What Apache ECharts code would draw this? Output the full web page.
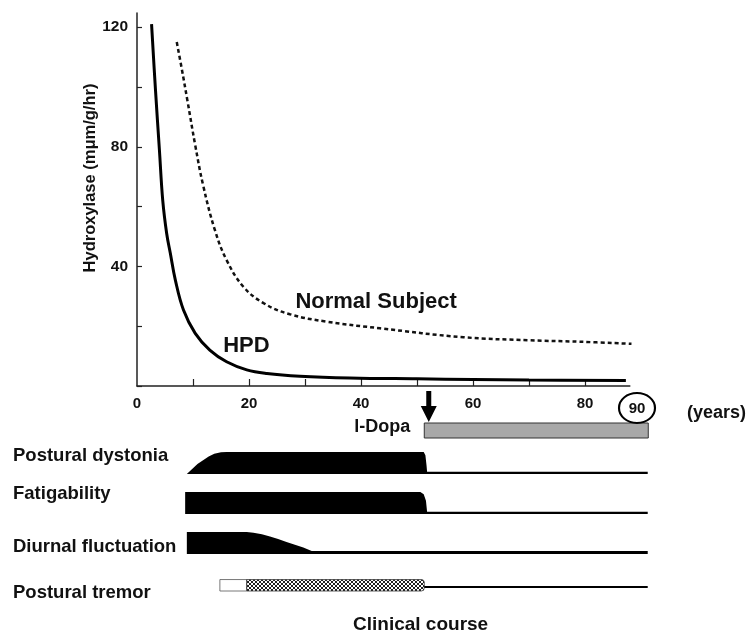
<!DOCTYPE html>
<html>
<head>
<meta charset="utf-8">
<script src="https://cdn.jsdelivr.net/npm/echarts@6/dist/echarts.min.js"></script>
<style>
html,body{margin:0;padding:0;background:#fff;}
#chart{width:754px;height:635px;}
</style>
</head>
<body>
<div id="chart"></div>
<script>
// ---- data ----
const hpd = [[2.6,121],[3.3,99],[4.0,79],[4.6,62],[5.3,51],[5.95,44.4],[6.84,35.5],[8.3,25.4],[10.4,17.6],[13.0,12.0],[16.0,8.1],[19.6,5.4],[23.2,4.2],[29.1,3.3],[38,2.7],[50,2.4],[60,2.2],[70,2.0],[87.3,1.8]];
const normalSubject = [[7.1,115],[8.0,106],[9.0,95.5],[10.4,80.5],[11.8,67.2],[13.9,52.2],[16.0,42.1],[19.0,33.2],[22.6,27.7],[27.3,24.0],[33.9,21.5],[43.4,19.3],[58.3,16.3],[70,15.3],[79.1,14.8],[88.3,14.1]];
const yTickValues = [0,20,40,60,80,100,120];
const yLabelValues = [40,80,120];
const xTickValues = [10,20,30,40,50,60,70,80];
const xLabelValues = [0,20,40,60,80];
const ageMarker = [90];
const treatment = {name:'l-Dopa', start:51.3, end:91.3, arrowAt:52.1};
const symptoms = ['Postural dystonia','Fatigability','Diurnal fluctuation','Postural tremor'];
// severity profiles [year, severity 0..1]
const dystonia = [[8.9,0],[9.8,0.22],[10.8,0.45],[11.8,0.63],[12.8,0.8],[13.8,0.92],[15.0,0.99],[16.0,1],[51.2,1],[51.5,0.85],[51.7,0.4],[51.8,0.1],[91.2,0.1]];
const fatigability = [[8.6,0],[8.6,1],[50.6,1],[51.2,0.9],[51.6,0.6],[51.8,0.1],[91.2,0.1]];
const diurnal = [[8.9,0],[8.9,1],[19.6,1],[20.8,0.97],[22.3,0.9],[23.75,0.8],[25.2,0.68],[26.7,0.55],[28.2,0.42],[29.7,0.3],[31.2,0.14],[91.2,0.14]];
// tremor segments [start, end, severity, kind]
const tremor = [[14.8,19.6,0.52,'open'],[19.6,51.3,0.52,'dots'],[51.3,91.2,0.1,'solid']];
const profiles = [dystonia, fatigability, diurnal];

// ---- pattern ----
const pc = document.createElement('canvas');
pc.width = 4; pc.height = 4;
const pctx = pc.getContext('2d');
pctx.fillStyle = '#fff'; pctx.fillRect(0,0,4,4);
pctx.fillStyle = '#222';
[[1,0],[2,0],[0,1],[3,1],[0,2],[3,2],[1,3],[2,3]].forEach(p => pctx.fillRect(p[0],p[1],1,1));

const FONT = "'Liberation Sans', Arial, sans-serif";
const chart = echarts.init(document.getElementById('chart'), null, {renderer:'canvas'});

function renderSymptom(params, api) {
  const idx = params.dataIndex;
  const band = api.size([0,1])[1];
  const h = band * 0.55;
  const cy = api.coord([0, idx])[1];
  const base = cy + h/2;
  const children = [];
  if (idx < 3) {
    const prof = profiles[idx];
    const pts = prof.map(p => [api.coord([p[0], idx])[0], base - p[1]*h]);
    pts.push([api.coord([prof[prof.length-1][0], idx])[0], base]);
    pts.push([api.coord([prof[0][0], idx])[0], base]);
    children.push({type:'polygon', shape:{points:pts}, style:{fill:'#000'}});
  } else {
    const tb = cy + 8;
    tremor.forEach(seg => {
      const x0 = api.coord([seg[0], idx])[0];
      const x1 = api.coord([seg[1], idx])[0];
      const hh = seg[2]*h;
      let style, y0 = tb - hh;
      if (seg[3] === 'open') style = {fill:'#fff', stroke:'#555', lineWidth:0.8};
      else if (seg[3] === 'dots') style = {fill:{image:pc, repeat:'repeat'}, stroke:'#333', lineWidth:0.8};
      else { style = {fill:'#000'}; y0 = tb - 4 - hh/2; }
      children.push({type:'rect', shape:{x:x0, y:y0, width:x1-x0, height:hh, r: seg[3]==='dots' ? [0,3,3,0] : 0}, style});
    });
  }
  return {type:'group', children};
}

function renderTreatment(params, api) {
  const c0 = api.coord([treatment.start, 0]);
  const c1 = api.coord([treatment.end, 0]);
  const ca = api.coord([treatment.arrowAt, 0]);
  const band = api.size([0,1])[1];
  const top = c0[1] - band/2;
  const ax = ca[0];
  return {type:'group', children:[
    {type:'rect', shape:{x:c0[0], y:top, width:c1[0]-c0[0], height:band}, style:{fill:'#a8a8a8', stroke:'#333', lineWidth:1}},
    {type:'text', x:c0[0]-14, y:c0[1]-3, style:{text:treatment.name, align:'right', verticalAlign:'middle', font:"bold 18px "+FONT, fill:'#111'}},
    {type:'polygon', shape:{points:[[ax-2.5,top-32],[ax+2.5,top-32],[ax+2.5,top-17],[ax+8,top-17],[ax,top-1],[ax-8,top-17],[ax-2.5,top-17]]}, style:{fill:'#000'}}
  ]};
}

function renderAge(params, api) {
  const c = api.coord([api.value(0), 0]);
  const band = api.size([0,1])[1];
  const cy = c[1] - band/2 - 15;
  const cx = c[0] - 4;
  return {type:'group', children:[
    {type:'circle', x:cx, y:cy, scaleX:1.2, shape:{cx:0, cy:0, r:15}, style:{fill:'none', stroke:'#000', lineWidth:1.8}},
    {type:'text', x:cx, y:cy+1, style:{text:String(api.value(0)), align:'center', verticalAlign:'middle', font:"bold 15px "+FONT, fill:'#111'}}
  ]};
}

const option = {
  animation:false,
  backgroundColor:'#fff',
  textStyle:{fontFamily:FONT},
  title:{text:'Clinical course', left:348, top:610, textStyle:{fontSize:19, fontWeight:'bold', color:'#111', fontFamily:FONT}},
  grid:[
    {left:137, top:13.1, width:492.8, height:372.9},
    {left:137, top:423, width:515.2, height:15},
    {left:137, top:443, width:515.2, height:160}
  ],
  xAxis:[
    {gridIndex:0, type:'value', min:0, max:88,
     axisLine:{lineStyle:{color:'#222', width:1.5}},
     axisTick:{inside:true, length:7, customValues:xTickValues, lineStyle:{color:'#222', width:1.2}},
     axisLabel:{customValues:xLabelValues, margin:10, fontSize:15, fontWeight:'bold', color:'#111'},
     splitLine:{show:false}},
    {gridIndex:1, type:'value', min:0, max:92, show:false},
    {gridIndex:2, type:'value', min:0, max:92, show:false}
  ],
  yAxis:[
    {gridIndex:0, type:'value', min:0, max:124.7,
     axisLine:{show:true, lineStyle:{color:'#222', width:1.5}},
     axisTick:{show:true, inside:true, length:5, customValues:yTickValues, lineStyle:{color:'#222', width:1.2}},
     axisLabel:{customValues:yLabelValues, margin:9, fontSize:15.5, fontWeight:'bold', color:'#111'},
     splitLine:{show:false}},
    {gridIndex:1, type:'category', data:[treatment.name], show:false},
    {gridIndex:2, type:'category', data:symptoms, inverse:true,
     axisLine:{show:false}, axisTick:{show:false},
     axisLabel:{align:'left', margin:124, fontSize:18.5, fontWeight:'bold', color:'#111',
       formatter:function(v){
         const k = {'Postural dystonia':'a','Fatigability':'b','Diurnal fluctuation':'c','Postural tremor':'d'}[v];
         return '{'+k+'|'+v+'}';
       },
       rich:{
         a:{fontSize:18.5, fontWeight:'bold', color:'#111', padding:[0,0,14,0]},
         b:{fontSize:18.5, fontWeight:'bold', color:'#111', padding:[0,0,18,0]},
         c:{fontSize:18.5, fontWeight:'bold', color:'#111', padding:[8,0,0,0]},
         d:{fontSize:18.5, fontWeight:'bold', color:'#111', padding:[20,0,0,0]}
       }}}
  ],
  graphic:[
    {type:'text', x:90, y:178, rotation:Math.PI/2,
     style:{text:'Hydroxylase (mμm/g/hr)', align:'center', verticalAlign:'middle', font:"bold 16.5px "+FONT, fill:'#111'}},
    {type:'text', x:687, y:413,
     style:{text:'(years)', align:'left', verticalAlign:'middle', font:"bold 18px "+FONT, fill:'#111'}}
  ],
  series:[
    {name:'HPD', type:'line', xAxisIndex:0, yAxisIndex:0, data:hpd, smooth:0.4, showSymbol:false,
     lineStyle:{color:'#000', width:3},
     markPoint:{symbol:'circle', symbolSize:1, itemStyle:{color:'rgba(0,0,0,0)'},
       label:{show:true, position:'right', distance:0, formatter:'HPD', fontSize:22, fontWeight:'bold', color:'#111'},
       data:[{coord:[15.3,13.4]}]}},
    {name:'Normal Subject', type:'line', xAxisIndex:0, yAxisIndex:0, data:normalSubject, smooth:0.4, showSymbol:false,
     lineStyle:{color:'#111', width:2.5, type:[4,3]},
     markPoint:{symbol:'circle', symbolSize:1, itemStyle:{color:'rgba(0,0,0,0)'},
       label:{show:true, position:'right', distance:0, formatter:'Normal Subject', fontSize:22, fontWeight:'bold', color:'#111'},
       data:[{coord:[28.2,28.1]}]}},
    {name:'treatment', type:'custom', xAxisIndex:1, yAxisIndex:1, data:[[treatment.start,0]], renderItem:renderTreatment, clip:false},
    {name:'age', type:'custom', xAxisIndex:1, yAxisIndex:1, data:ageMarker.map(a=>[a,0]), renderItem:renderAge, clip:false},
    {name:'symptoms', type:'custom', xAxisIndex:2, yAxisIndex:2, data:symptoms.map((s,i)=>[8.6,i]), renderItem:renderSymptom, clip:false}
  ]
};
chart.setOption(option);
</script>
</body>
</html>
